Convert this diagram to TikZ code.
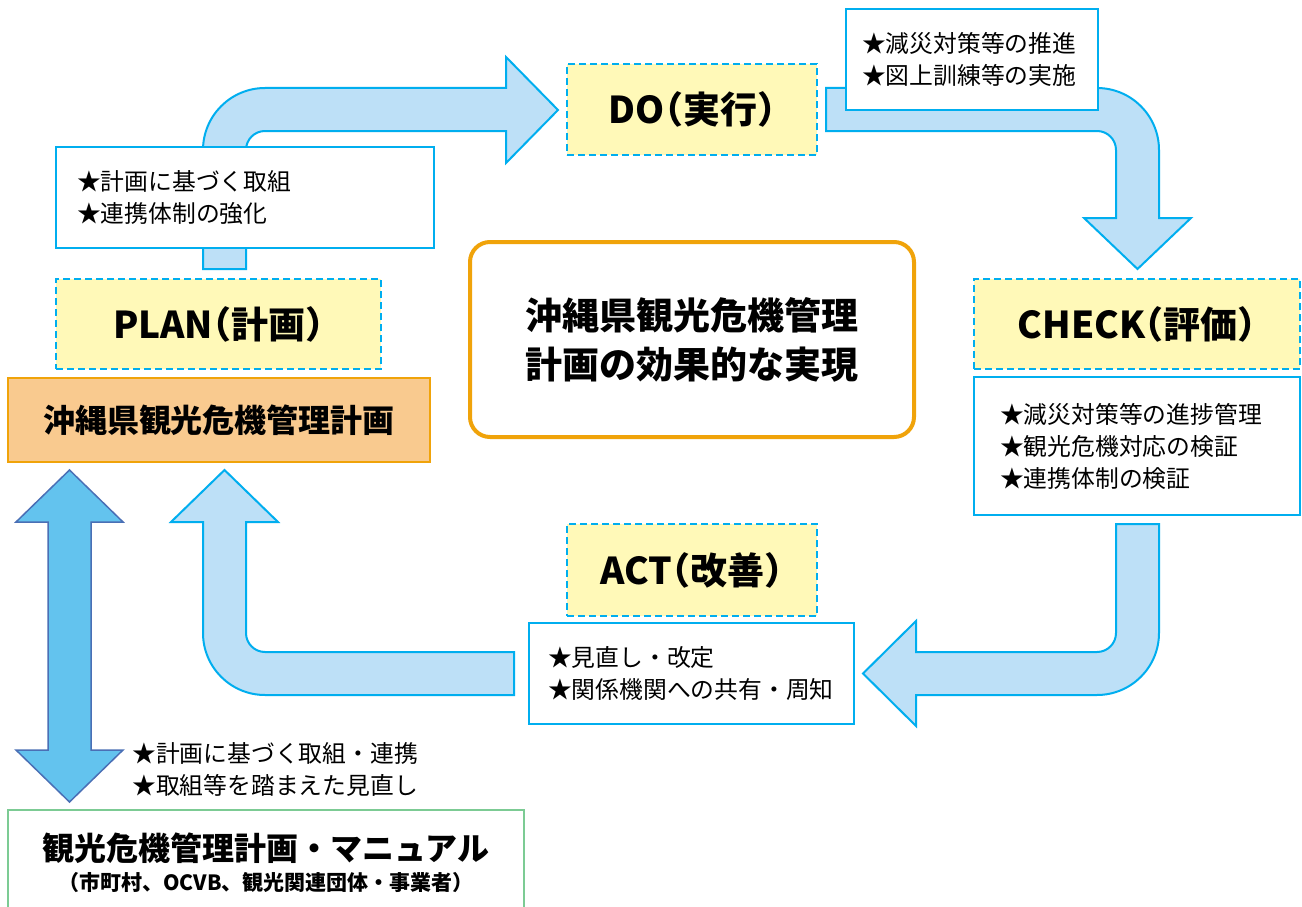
\documentclass[tikz,border=0pt]{standalone}
\usepackage{fontspec}
\setmainfont{Noto Sans CJK JP}
\definecolor{cyanline}{HTML}{00AEEF}
\definecolor{arrowfill}{HTML}{BDE0F7}
\definecolor{yellowfill}{HTML}{FFF9B8}
\definecolor{orangeline}{HTML}{F0A30A}
\definecolor{orangefill}{HTML}{F9CA8F}
\definecolor{dblfill}{HTML}{63C3EE}
\definecolor{dblline}{HTML}{4A6FB5}
\definecolor{greenline}{HTML}{7CCB94}
\tikzset{
  blockarrow/.style={draw=cyanline, fill=arrowfill, line width=2pt, line join=miter},
  phasebox/.style={draw=cyanline, fill=yellowfill, line width=2pt, dash pattern=on 7pt off 4pt,
    inner sep=0pt, font=\fontsize{37}{40}\selectfont\bfseries\addfontfeature{RawFeature=+halt}},
  notebox/.style={draw=cyanline, fill=white, line width=2.5pt, align=left, inner ysep=0pt,
    font=\fontsize{23.8}{32}\selectfont},
  notetext/.style={align=left, inner sep=0pt, font=\fontsize{23.8}{32}\selectfont},
}
\begin{document}
\begin{tikzpicture}[x=1pt,y=-1pt]
\clip (0,0) rectangle (1302,907);
\fill[white] (0,0) rectangle (1302,907);

% block arrows
\draw[blockarrow] (203,269) -- (203,150) arc[start angle=180,end angle=270,radius=62]
  -- (506,88) -- (506,57) -- (558,110) -- (506,163) -- (506,131) -- (265,131)
  arc[start angle=270,end angle=180,radius=19] -- (246,269) -- cycle;
\draw[blockarrow] (826,88) -- (1097,88) arc[start angle=270,end angle=360,radius=62]
  -- (1159,218) -- (1191,218) -- (1137.5,269) -- (1084,218) -- (1116,218) -- (1116,150)
  arc[start angle=0,end angle=-90,radius=19] -- (826,131) -- cycle;
\draw[blockarrow] (1116,524) -- (1159,524) -- (1159,633) arc[start angle=0,end angle=90,radius=62]
  -- (916,695) -- (916,726) -- (863,673.5) -- (916,621) -- (916,652) -- (1097,652)
  arc[start angle=90,end angle=0,radius=19] -- cycle;
\draw[blockarrow] (514,652) -- (514,695) -- (265,695) arc[start angle=90,end angle=180,radius=62]
  -- (203,522) -- (171,522) -- (224.5,470) -- (278,522) -- (246,522) -- (246,633)
  arc[start angle=180,end angle=90,radius=19] -- cycle;
\draw[draw=dblline, fill=dblfill, line width=1.5pt, line join=miter]
  (69.5,470) -- (123,522) -- (91,522) -- (91,750) -- (123,750) -- (69.5,802)
  -- (16,750) -- (48,750) -- (48,522) -- (16,522) -- cycle;

% note boxes
\node[notebox, text width=336pt, inner xsep=21pt, minimum height=101pt] (plannote) at (245,197.5)
  {★計画に基づく取組\\★連携体制の強化};
\node[notebox, text width=220pt, inner xsep=16pt, minimum height=101pt] (donote) at (972,59.5)
  {★減災対策等の推進\\★図上訓練等の実施};
\node[notebox, text width=274pt, inner xsep=26pt, minimum height=138pt] (checknote) at (1137,446)
  {★減災対策等の進捗管理\\★観光危機対応の検証\\★連携体制の検証};
\node[notebox, text width=287pt, inner xsep=19pt, minimum height=101pt] (actnote) at (691.5,673.5)
  {★見直し・改定\\★関係機関への共有・周知};

% phase boxes
\node[phasebox, minimum width=325pt, minimum height=90pt] (plan) at (218.5,324) {PLAN（計画）};
\node[phasebox, minimum width=250pt, minimum height=91pt] (do) at (692,109.5) {DO（実行）};
\node[phasebox, minimum width=326pt, minimum height=90pt] (check) at (1137,324) {CHECK（評価）};
\node[phasebox, minimum width=250pt, minimum height=92pt] (act) at (692,570) {ACT（改善）};

% plan box
\node[draw=orangeline, fill=orangefill, line width=2.5pt, minimum width=422pt, minimum height=84pt,
  inner sep=0pt, font=\fontsize{32}{36}\selectfont\bfseries] (planbook) at (219,420) {沖縄県観光危機管理計画};

% centre box
\node[draw=orangeline, line width=4pt, rounded corners=20pt, minimum width=444pt, minimum height=195pt,
  align=center, inner sep=0pt, font=\fontsize{37}{49}\selectfont\bfseries] (goal) at (692,339.5)
  {沖縄県観光危機管理\\計画の効果的な実現};

% manual box
\node[draw=greenline, line width=2pt, minimum width=516pt, minimum height=120pt, inner sep=0pt] (manual) at (266,870) {};
\node[inner sep=0pt, font=\fontsize{32}{36}\selectfont\bfseries] (manualtitle) at (266,848) {観光危機管理計画・マニュアル};
\node[inner sep=0pt, font=\fontsize{21}{24}\selectfont\bfseries] (manualsub) at (266,883) {（市町村、OCVB、観光関連団体・事業者）};

\node[notetext, anchor=west] (linklabel) at (132,769) {★計画に基づく取組・連携\\★取組等を踏まえた見直し};
\end{tikzpicture}
\end{document}
